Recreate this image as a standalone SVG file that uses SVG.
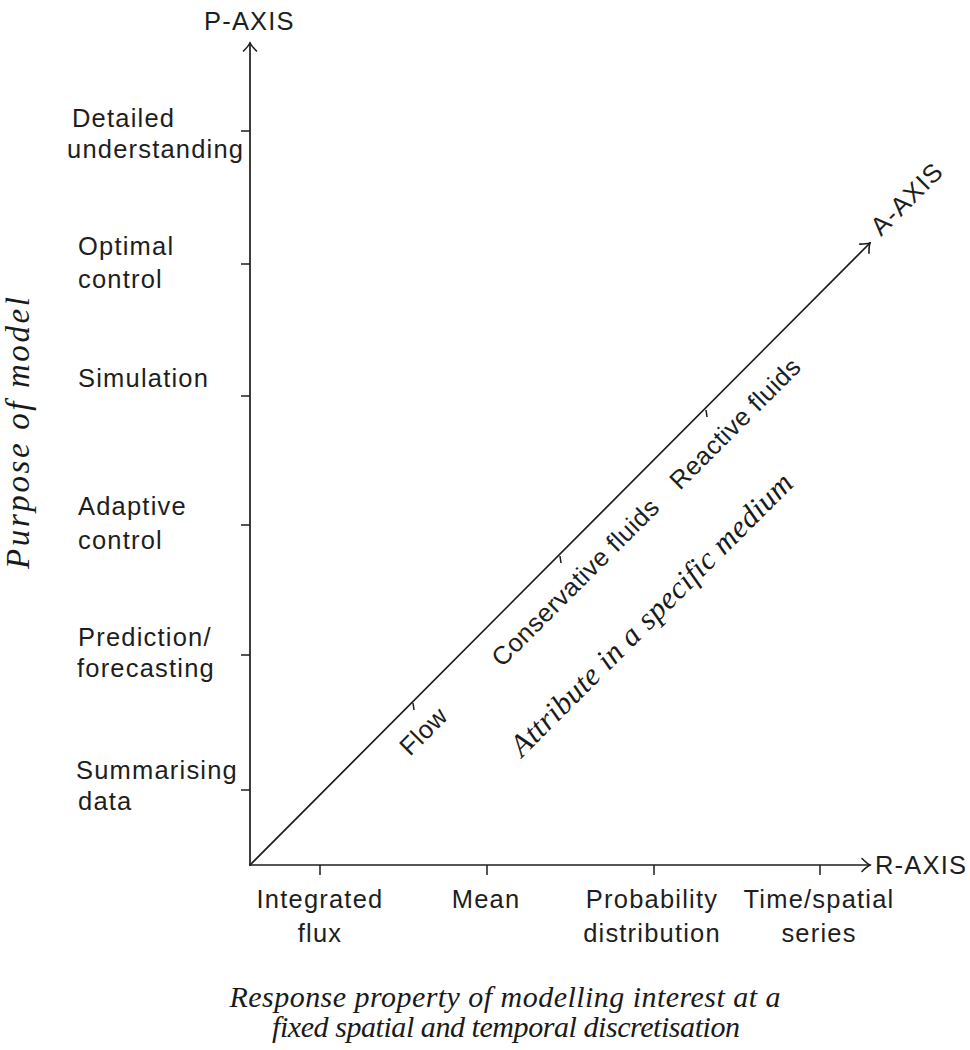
<svg xmlns="http://www.w3.org/2000/svg" width="970" height="1050" viewBox="0 0 970 1050">
  <style>
    .ax { stroke: #1c1c1c; stroke-width: 1.7; fill: none; stroke-linecap: round; }
    .tk { stroke: #1c1c1c; stroke-width: 1.5; fill: none; }
    .sans { font-family: "Liberation Sans", Arial, sans-serif; font-size: 25.5px; letter-spacing: 1.2px; fill: #1e1e1e; }
    .diag { letter-spacing: 0.5px; }
    .mid { text-anchor: middle; }
    .ital { font-family: "Liberation Serif", "Times New Roman", serif; font-style: italic; fill: #1a1a1a; }
  </style>
  <defs>
    <marker id="head" viewBox="-10 -8 12 16" refX="0" refY="0" markerWidth="12" markerHeight="16" markerUnits="userSpaceOnUse" orient="auto">
      <path d="M-8,-6.5 Q-3,-1.5 0,0 Q-3,1.5 -8,6.5" fill="none" stroke="#1c1c1c" stroke-width="1.6" stroke-linecap="round"/>
    </marker>
  </defs>
  <rect width="970" height="1050" fill="#ffffff"/>

  <!-- axes -->
  <g id="connectors">
    <line id="p-axis" class="ax" x1="250" y1="865" x2="250" y2="43" marker-end="url(#head)"/>
    <line id="r-axis" class="ax" x1="250" y1="865" x2="870" y2="865" marker-end="url(#head)"/>
    <line id="a-axis" class="ax" x1="250" y1="865" x2="870" y2="243" marker-end="url(#head)"/>
  </g>

  <!-- tick marks -->
  <g id="ticks">
    <line class="tk" x1="241" y1="131" x2="250" y2="131"/>
    <line class="tk" x1="241" y1="264" x2="250" y2="264"/>
    <line class="tk" x1="241" y1="396" x2="250" y2="396"/>
    <line class="tk" x1="241" y1="525" x2="250" y2="525"/>
    <line class="tk" x1="241" y1="655" x2="250" y2="655"/>
    <line class="tk" x1="241" y1="790" x2="250" y2="790"/>
    <line class="tk" x1="320" y1="865" x2="320" y2="875"/>
    <line class="tk" x1="487" y1="865" x2="487" y2="875"/>
    <line class="tk" x1="654" y1="865" x2="654" y2="875"/>
    <line class="tk" x1="820" y1="865" x2="820" y2="875"/>
    <line class="tk" x1="413" y1="703" x2="414" y2="710"/>
    <line class="tk" x1="560" y1="556" x2="561" y2="563"/>
    <line class="tk" x1="706" y1="410" x2="707" y2="417"/>
  </g>

  <!-- axis names -->
  <g id="p-axis-label"><text class="sans" x="204" y="30">P-AXIS</text></g>
  <g id="r-axis-label"><text class="sans" x="875" y="874">R-AXIS</text></g>
  <g id="a-axis-label"><text class="sans" transform="translate(881,237) rotate(-45)">A-AXIS</text></g>

  <!-- purpose levels on the P-axis -->
  <g id="p-detailed">
    <text class="sans" x="72" y="127">Detailed</text>
    <text class="sans" x="67" y="158">understanding</text>
  </g>
  <g id="p-optimal">
    <text class="sans" x="78" y="255">Optimal</text>
    <text class="sans" x="78" y="288">control</text>
  </g>
  <g id="p-simulation">
    <text class="sans" x="78" y="387">Simulation</text>
  </g>
  <g id="p-adaptive">
    <text class="sans" x="78" y="515">Adaptive</text>
    <text class="sans" x="78" y="549">control</text>
  </g>
  <g id="p-prediction">
    <text class="sans" x="78" y="646">Prediction/</text>
    <text class="sans" x="77" y="677">forecasting</text>
  </g>
  <g id="p-summarising">
    <text class="sans" x="76" y="779">Summarising</text>
    <text class="sans" x="78" y="810">data</text>
  </g>

  <!-- response properties on the R-axis -->
  <g id="r-integrated">
    <text class="sans mid" x="320" y="908">Integrated</text>
    <text class="sans mid" x="320" y="942">flux</text>
  </g>
  <g id="r-mean">
    <text class="sans mid" x="486" y="908">Mean</text>
  </g>
  <g id="r-probability">
    <text class="sans mid" x="652" y="908">Probability</text>
    <text class="sans mid" x="652" y="942">distribution</text>
  </g>
  <g id="r-series">
    <text class="sans mid" x="819" y="908">Time/spatial</text>
    <text class="sans mid" x="819" y="942">series</text>
  </g>

  <!-- media along the A-axis -->
  <g id="a-flow"><text class="sans diag" transform="translate(410,757) rotate(-45)">Flow</text></g>
  <g id="a-conservative"><text class="sans diag" transform="translate(502,668) rotate(-45)">Conservative fluids</text></g>
  <g id="a-reactive"><text class="sans diag" transform="translate(680,491) rotate(-45)">Reactive fluids</text></g>
  <g id="a-title"><text class="ital" font-size="31" transform="translate(522,758) rotate(-45)" textLength="386" lengthAdjust="spacing">Attribute in a specific medium</text></g>

  <!-- axis titles -->
  <g id="p-title"><text class="ital mid" font-size="33" transform="translate(29,433) rotate(-90)" textLength="272" lengthAdjust="spacing">Purpose of model</text></g>
  <g id="r-title">
    <text class="ital mid" font-size="30" x="505" y="1007" textLength="551" lengthAdjust="spacing">Response property of modelling interest at a</text>
    <text class="ital mid" font-size="30" x="506" y="1037" textLength="468" lengthAdjust="spacing">fixed spatial and temporal discretisation</text>
  </g>
</svg>
